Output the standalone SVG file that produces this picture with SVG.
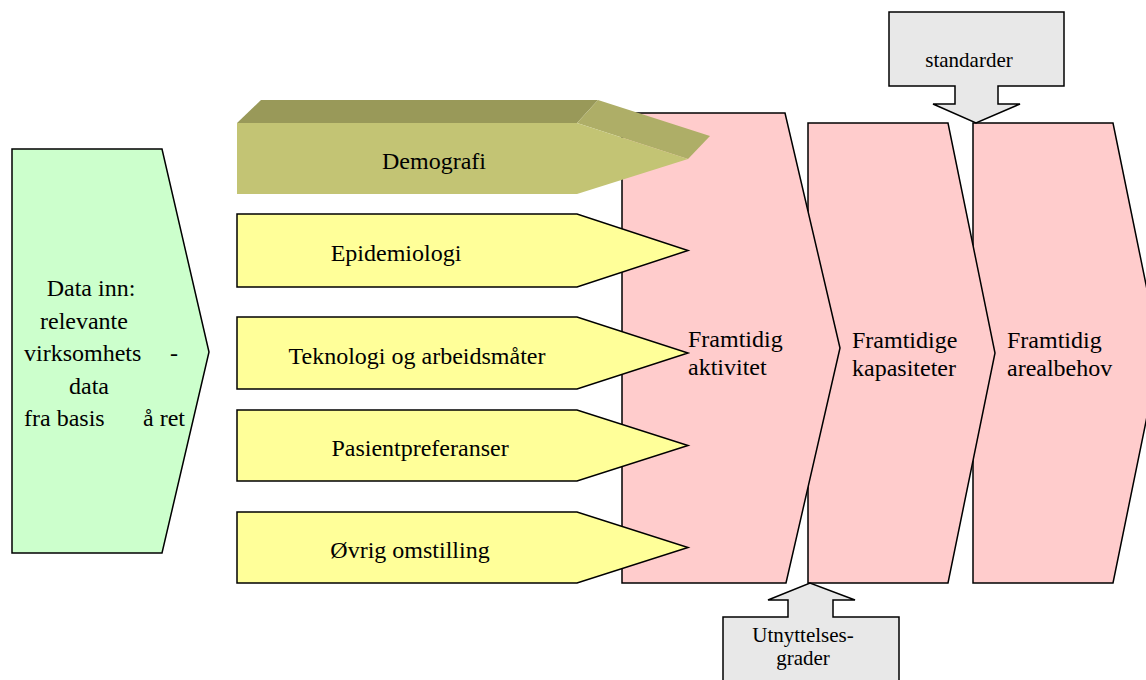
<svg xmlns="http://www.w3.org/2000/svg" width="1146" height="680" viewBox="0 0 1146 680" font-family="Liberation Serif, DejaVu Serif, serif">
<style>
  text { font-family: "Liberation Serif", "DejaVu Serif", serif; }
  .t { font-size: 24px; fill: #000; }
  .ts { font-size: 21px; fill: #000; }
  .pink { fill: #FFCCCC; stroke: #000; stroke-width: 1.5; stroke-linejoin: miter; }
  .yel { fill: #FFFF99; stroke: #000; stroke-width: 1.5; }
  .green { fill: #CCFFCC; stroke: #000; stroke-width: 1.5; }
  .gray { fill: #E8E8E8; stroke: #000; stroke-width: 1.5; }
</style>
<rect width="1146" height="680" fill="#fff"/>

<g id="framtidig-arealbehov">
  <polygon class="pink" points="973,123 1113,123 1160,353 1113,583 973,583"/>
  <text class="t" x="1007" y="348" font-family="Liberation Serif">Framtidig</text>
  <text class="t" x="1007" y="376" font-family="Liberation Serif">arealbehov</text>
</g>
<g id="framtidige-kapasiteter">
  <polygon class="pink" points="808,123 948,123 995,353 948,583 808,583"/>
  <text class="t" x="852" y="348">Framtidige</text>
  <text class="t" x="852" y="376">kapasiteter</text>
</g>
<g id="framtidig-aktivitet">
  <polygon class="pink" points="622,113 785,113 840,348 786,583 622,583"/>
  <text class="t" x="688" y="347">Framtidig</text>
  <text class="t" x="688" y="375">aktivitet</text>
</g>

<g id="data-inn">
  <polygon class="green" points="12,149 162,149 209,352 162,553 12,553"/>
  <text class="t" x="91" y="296" text-anchor="middle">Data inn:</text>
  <text class="t" x="40" y="329">relevante</text>
  <text class="t" x="24" y="361">virksomhets</text>
  <text class="t" x="170" y="361">-</text>
  <text class="t" x="89" y="394" text-anchor="middle">data</text>
  <text class="t" x="24" y="426">fra basis</text>
  <text class="t" x="143" y="426">å ret</text>
</g>

<g id="demografi">
  <polygon fill="#999959" points="237,123 261,100 598,100 577,123"/>
  <polygon fill="#AEAE67" points="577,123 598,100 710,136 688,159"/>
  <polygon fill="#C3C474" points="237,123 577,123 688,159 577,194 237,194"/>
  <text class="t" x="434" y="169" text-anchor="middle">Demografi</text>
</g>

<g id="epidemiologi">
  <polygon class="yel" points="237,214 577,214 688,250.5 577,287 237,287"/>
  <text class="t" x="396" y="261" text-anchor="middle">Epidemiologi</text>
</g>
<g id="teknologi">
  <polygon class="yel" points="237,317 577,317 688,353 577,389 237,389"/>
  <text class="t" x="417" y="364" text-anchor="middle">Teknologi og arbeidsmåter</text>
</g>
<g id="pasientpreferanser">
  <polygon class="yel" points="237,410 577,410 688,445.5 577,481 237,481"/>
  <text class="t" x="420" y="456" text-anchor="middle">Pasientpreferanser</text>
</g>
<g id="ovrig-omstilling">
  <polygon class="yel" points="237,512 577,512 688,547.5 577,583 237,583"/>
  <text class="t" x="410" y="558" text-anchor="middle">Øvrig omstilling</text>
</g>

<g id="connectors">
  <g id="standarder">
    <polygon class="gray" points="889,12 1064,12 1064,86 998,86 998,104 1020,104 976,123 933,104 955,104 955,86 889,86"/>
    <text class="ts" x="969" y="67" text-anchor="middle">standarder</text>
  </g>
  <g id="utnyttelsesgrader">
    <polygon class="gray" points="723,690 723,617 788,617 788,600 768,600 810,583 855,600 833,600 833,617 899,617 899,690"/>
    <text class="ts" x="803" y="642" text-anchor="middle">Utnyttelses-</text>
    <text class="ts" x="803" y="665" text-anchor="middle">grader</text>
  </g>
</g>
</svg>
